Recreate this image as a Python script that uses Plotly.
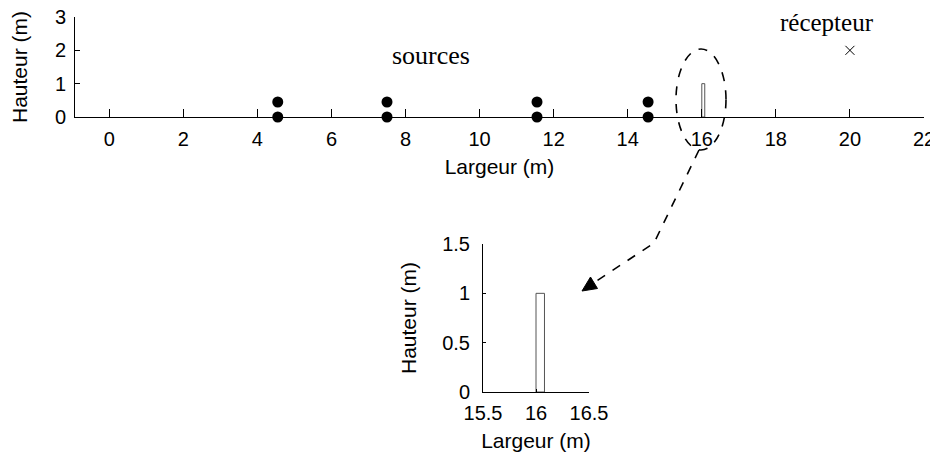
import plotly.graph_objects as go

# page body has an 8px margin: the figure starts at screen (8, 8)
OFF = 8
W, H = 938 - OFF, 456 - OFF

# ---- data ----
source_x = [4.55, 7.5, 11.55, 14.55]
source_heights = [0.0, 0.45]
receiver_x = [20.0]
receiver_y = [2.0]
barrier_left = 16.0
barrier_width = 0.08
barrier_height = 1.0
main_xticks = list(range(0, 23, 2))
main_yticks = [0, 1, 2, 3]
inset_xticks = [15.5, 16.0, 16.5]
inset_xticklabels = ["15.5", "16", "16.5"]
inset_yticks = [0, 0.5, 1.0, 1.5]
inset_yticklabels = ["0", "0.5", "1", "1.5"]

SANS = "Liberation Sans, Arial, sans-serif"
SERIF = "Liberation Serif, Times New Roman, serif"
FS = 20
TFS = 21


def px(x):
    return (x - OFF) / W


def py(y):
    return 1 - (y - OFF) / H


fig = go.Figure()

# sources
sx, sy = [], []
for x in source_x:
    for h in source_heights:
        sx.append(x)
        sy.append(h)
fig.add_trace(go.Scatter(x=sx, y=sy, mode="markers",
                         marker=dict(color="black", size=11, symbol="circle"),
                         cliponaxis=False, xaxis="x", yaxis="y", showlegend=False))
# receiver
fig.add_trace(go.Scatter(x=receiver_x, y=receiver_y, mode="markers",
                         marker=dict(color="black", size=9, symbol="x-thin",
                                     line=dict(color="black", width=1)),
                         xaxis="x", yaxis="y", showlegend=False))

bx = [barrier_left, barrier_left, barrier_left + barrier_width,
      barrier_left + barrier_width, barrier_left]
by = [0, barrier_height, barrier_height, 0, 0]
for xa, ya in (("x", "y"), ("x2", "y2")):
    fig.add_trace(go.Scatter(x=bx, y=by, mode="lines", fill="toself",
                             fillcolor="white",
                             line=dict(color="#555555", width=1),
                             xaxis=xa, yaxis=ya, showlegend=False))

axis_common = dict(showgrid=False, zeroline=False, showline=True,
                   linecolor="black", linewidth=1, ticks="inside",
                   tickcolor="black", tickwidth=1, automargin=False,
                   ticklabeloverflow="allow",
                   tickfont=dict(family=SANS, size=FS, color="black"))
title_font = dict(family=SANS, size=TFS, color="black")

fig.update_layout(
    width=W, height=H,
    margin=dict(l=0, r=0, t=0, b=0),
    paper_bgcolor="white", plot_bgcolor="rgba(0,0,0,0)",
    xaxis=dict(domain=[px(75), px(924)], range=[-0.925, 22],
               tickvals=main_xticks, ticklen=8, anchor="y", ticklabelstandoff=4,
               title=dict(text="Largeur (m)", font=title_font, standoff=10),
               **axis_common),
    yaxis=dict(domain=[py(117), py(17)], range=[0, 3],
               tickvals=main_yticks, ticklen=5, anchor="x", ticklabelstandoff=4,
               title=dict(text="Hauteur (m)", font=title_font, standoff=21),
               **axis_common),
    xaxis2=dict(domain=[px(483), px(589)], range=[15.5, 16.5],
                tickvals=inset_xticks, ticktext=inset_xticklabels, ticklen=3,
                anchor="y2", ticklabelstandoff=3,
                title=dict(text="Largeur (m)", font=title_font, standoff=10),
                **axis_common),
    yaxis2=dict(domain=[py(392), py(244)], range=[0, 1.5],
                tickvals=inset_yticks, ticktext=inset_yticklabels, ticklen=3,
                anchor="x2", ticklabelstandoff=8,
                title=dict(text="Hauteur (m)", font=title_font, standoff=19),
                **axis_common),
)

fig.add_annotation(x=8.7, y=1.85, xref="x", yref="y", text="sources",
                   showarrow=False, font=dict(family=SERIF, size=26, color="black"))
fig.add_annotation(x=19.38, y=2.82, xref="x", yref="y", text="récepteur",
                   showarrow=False, font=dict(family=SERIF, size=25, color="black"))

# dashed ellipse highlighting the barrier
fig.add_shape(type="circle", xref="paper", yref="paper",
              x0=px(676), x1=px(726), y0=py(150), y1=py(49),
              line=dict(color="black", width=1.6, dash="dash"))
# dashed connector
path = "M {:.5f},{:.5f} L {:.5f},{:.5f} L {:.5f},{:.5f}".format(
    px(699), py(150), px(654), py(243), px(595), py(282))
fig.add_shape(type="path", xref="paper", yref="paper", path=path,
              line=dict(color="black", width=1.6, dash="dash"))
# arrow head
head = "M {:.5f},{:.5f} L {:.5f},{:.5f} L {:.5f},{:.5f} Z".format(
    px(582), py(291), px(590.5), py(277), px(597.5), py(288.5))
fig.add_shape(type="path", xref="paper", yref="paper", path=head,
              fillcolor="black", line=dict(color="black", width=1))

fig.write_html("out.html")
